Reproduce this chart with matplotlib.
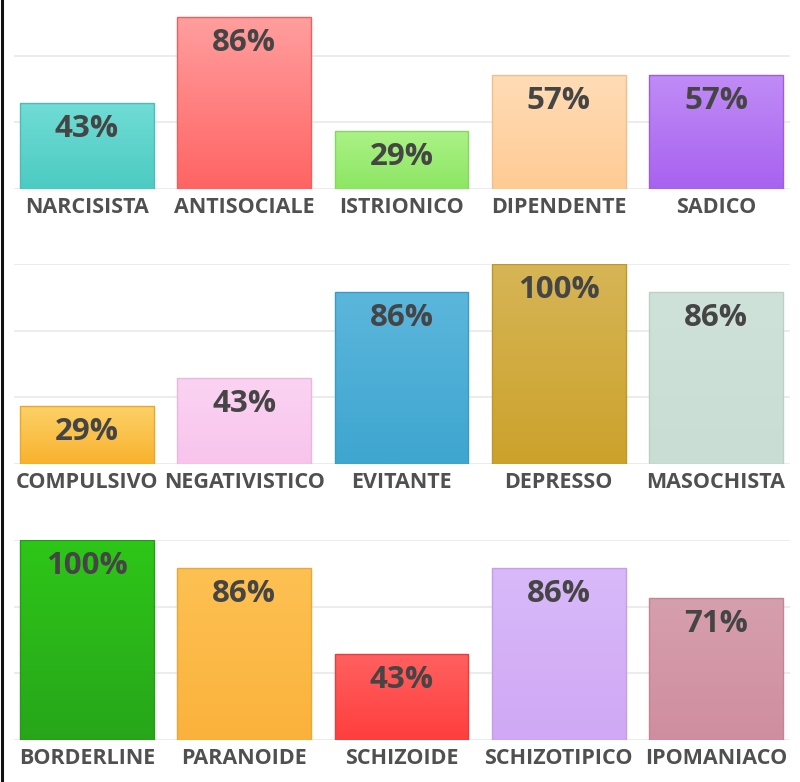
import numpy as np
import matplotlib.pyplot as plt
import matplotlib.colors as mcolors
from matplotlib.lines import Line2D

plt.rcParams['font.family'] = ['Open Sans', 'DejaVu Sans']

row1_labels = ["NARCISISTA", "ANTISOCIALE", "ISTRIONICO", "DIPENDENTE", "SADICO"]
row1_values = [43, 86, 29, 57, 57]
row1_colors = [("#70dcd5", "#4ccbc2"), ("#ff9e9e", "#ff6464"), ("#abf286", "#8de664"),
               ("#ffdcb6", "#ffcb94"), ("#c08cf6", "#a862f0")]

row2_labels = ["COMPULSIVO", "NEGATIVISTICO", "EVITANTE", "DEPRESSO", "MASOCHISTA"]
row2_values = [29, 43, 86, 100, 86]
row2_colors = [("#fcd168", "#f9b22e"), ("#fbd3f2", "#f8c4ec"), ("#5cb6dc", "#3ea6cf"),
               ("#d6b555", "#cca22c"), ("#cfe2da", "#c9ddd5")]

row3_labels = ["BORDERLINE", "PARANOIDE", "SCHIZOIDE", "SCHIZOTIPICO", "IPOMANIACO"]
row3_values = [100, 86, 43, 86, 71]
row3_colors = [("#2ec618", "#27a61a"), ("#fdc152", "#fbb23c"), ("#ff6060", "#ff3e3e"),
               ("#d8b9f9", "#d0a8f5"), ("#d69fae", "#cf8e9f")]

rows = [(row1_labels, row1_values, row1_colors, 189),
        (row2_labels, row2_values, row2_colors, 464),
        (row3_labels, row3_values, row3_colors, 740)]

W, H = 800, 782
fig = plt.figure(figsize=(W / 100, H / 100), dpi=100)

x_left, x_right = 14, 790
centers = np.arange(5)
xlo = -(87 - x_left) / 157.25
xhi = 4 + (x_right - 716) / 157.25

for labels, values, colors, base in rows:
    ax = fig.add_axes([x_left / W, 1 - base / H, (x_right - x_left) / W, 200 / H])
    ax.set_xlim(xlo, xhi)
    ax.set_ylim(0, 100)
    for g in [0, 100 / 3, 200 / 3, 100]:
        ax.axhline(g, color="#e9e9e9", lw=1.2, zorder=0)
    bars = ax.bar(centers, values, width=0.852, facecolor="none", zorder=2)
    for b, (top_c, bot_c), v in zip(bars, colors, values):
        c1 = np.array(mcolors.to_rgb(top_c))
        c2 = np.array(mcolors.to_rgb(bot_c))
        t = np.linspace(0, 1, 64)[:, None]
        grad = (c1 * (1 - t) + c2 * t)[:, None, :]
        x0 = b.get_x()
        im = ax.imshow(grad, extent=(x0, x0 + b.get_width(), 0, v), aspect="auto",
                       origin="upper", zorder=1)
        im.set_clip_path(b)
        b.set_edgecolor(tuple(c2 * 0.94))
        b.set_linewidth(1.0)
        ax.annotate(f"{v}%", (b.get_x() + b.get_width() / 2, v), xytext=(0, -11),
                    textcoords="offset pixels", ha="center", va="top",
                    fontsize=22.5, fontweight="bold", color="#454545", zorder=3)
    ax.set_xticks(centers)
    ax.set_xticklabels(labels, fontsize=15.5, fontweight="bold", color="#505050")
    ax.tick_params(axis="x", length=0, pad=5.5)
    ax.set_yticks([])
    for s in ax.spines.values():
        s.set_visible(False)
    ax.set_xlim(xlo, xhi)

fig.add_artist(Line2D([1.5 / W, 1.5 / W], [0, 1], color="#111111", lw=2.2))

fig.savefig("out.png", dpi=100)
